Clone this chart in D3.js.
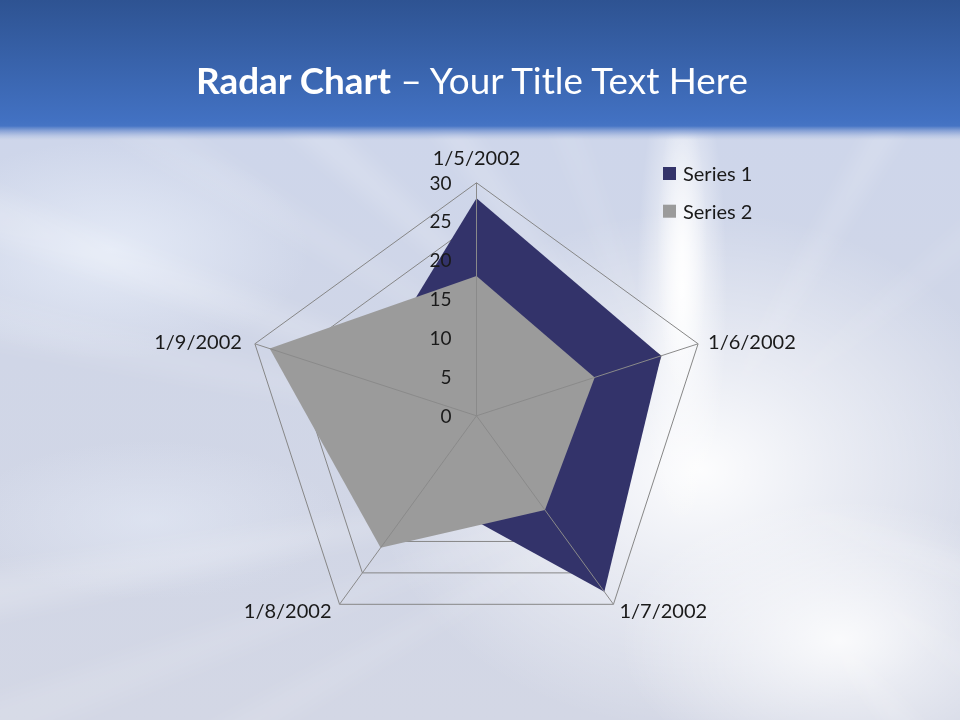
<!DOCTYPE html>
<html><head><meta charset="utf-8">
<script src="https://cdn.jsdelivr.net/npm/d3@7"></script>
<style>body{margin:0;overflow:hidden;background:#fff} svg{display:block}</style>
</head><body>
<script>
// ---- data ----
const categories = ["1/5/2002", "1/6/2002", "1/7/2002", "1/8/2002", "1/9/2002"];
const seriesNames = ["Series 1", "Series 2"];
const series1 = [28, 25, 28, 12, 15];
const series2 = [18, 16, 15, 21, 28];
const tickValues = [0, 5, 10, 15, 20, 25, 30];
const titleBold = "Radar Chart";
const titleRest = " \u2013 Your Title Text Here";

// ---- setup ----
const W = 960, H = 720;
const cx = 476.5, cy = 415.8, R = 233;
const colors = ["#33336a", "#9b9b9b"];
const font = "Lato, 'Open Sans', sans-serif";

const svg = d3.select("body").append("svg").attr("width", W).attr("height", H);
const defs = svg.append("defs");

// background gradients
const bg = defs.append("linearGradient").attr("id", "bg").attr("x1", 0).attr("y1", 0).attr("x2", 0).attr("y2", 1);
[[0, "#b4c3e3"], [0.05, "#cdd6ec"], [0.5, "#d0d6e7"], [1, "#d3d7e5"]]
  .forEach(([o, c]) => bg.append("stop").attr("offset", o).attr("stop-color", c));
const glow = defs.append("radialGradient").attr("id", "glow").attr("cx", 0.5).attr("cy", 0.5).attr("r", 0.5);
[[0, "#ffffff", 0.95], [0.4, "#ffffff", 0.55], [1, "#ffffff", 0]]
  .forEach(([o, c, op]) => glow.append("stop").attr("offset", o).attr("stop-color", c).attr("stop-opacity", op));
const glowL = defs.append("radialGradient").attr("id", "glowL").attr("cx", 0.5).attr("cy", 0.5).attr("r", 0.5);
[[0, "#e6ecf8", 0.9], [1, "#e6ecf8", 0]]
  .forEach(([o, c, op]) => glowL.append("stop").attr("offset", o).attr("stop-color", c).attr("stop-opacity", op));
const banner = defs.append("linearGradient").attr("id", "banner").attr("x1", 0).attr("y1", 0).attr("x2", 0).attr("y2", 1);
[[0, "#2e5392", 1], [0.86, "#4271c2", 1], [0.90, "#4674c4", 1], [0.95, "#7f9bd3", 0.6], [1, "#a9bbe0", 0]]
  .forEach(([o, c, op]) => banner.append("stop").attr("offset", o).attr("stop-color", c).attr("stop-opacity", op));
defs.append("filter").attr("id", "blur").attr("x", -0.2).attr("y", -0.2).attr("width", 1.4).attr("height", 1.4)
  .append("feGaussianBlur").attr("stdDeviation", 10);

svg.append("rect").attr("width", W).attr("height", H).attr("fill", "url(#bg)");
const bgG = svg.append("g");
bgG.append("ellipse").attr("cx", 700).attr("cy", 470).attr("rx", 330).attr("ry", 260).attr("fill", "url(#glow)");
bgG.append("ellipse").attr("cx", 682).attr("cy", 290).attr("rx", 45).attr("ry", 240).attr("fill", "url(#glow)");
bgG.append("ellipse").attr("cx", 682).attr("cy", 250).attr("rx", 25).attr("ry", 150).attr("fill", "url(#glow)").attr("opacity", 0.8);
bgG.append("ellipse").attr("cx", 840).attr("cy", 640).attr("rx", 220).attr("ry", 140).attr("fill", "url(#glow)").attr("opacity", 0.9);
bgG.append("ellipse").attr("cx", 110).attr("cy", 250).attr("rx", 200).attr("ry", 110).attr("fill", "url(#glowL)");
bgG.append("ellipse").attr("cx", 150).attr("cy", 520).attr("rx", 190).attr("ry", 80).attr("fill", "url(#glowL)").attr("opacity", 0.6);
// faint blurred rays from the burst centre
const rays = bgG.append("g").attr("filter", "url(#blur)");
const rayAngles = [192, 200, 212, 222, 160, 170, 150, 235, 250, 300, 320, 20, 35, 50];
rayAngles.forEach((a, i) => {
  const t = a * Math.PI / 180, w = 0.03;
  const L = 900, ox = 690, oy = 470;
  rays.append("path")
    .attr("d", `M${ox},${oy}L${ox + L * Math.cos(t - w)},${oy + L * Math.sin(t - w)}L${ox + L * Math.cos(t + w)},${oy + L * Math.sin(t + w)}Z`)
    .attr("fill", "#ffffff").attr("opacity", i % 2 ? 0.18 : 0.11);
});
svg.append("rect").attr("y", 0).attr("width", W).attr("height", 140).attr("fill", "url(#banner)");

// title
const title = svg.append("text").attr("x", 472).attr("y", 94).attr("text-anchor", "middle")
  .attr("fill", "#ffffff").attr("font-family", font).attr("font-size", 36);
title.append("tspan").attr("font-weight", "bold").text(titleBold);
title.append("tspan").text(titleRest);
const tw = title.node().getComputedTextLength();
title.attr("font-size", 36 * 552 / tw);

// scales
const r = d3.scaleLinear().domain([0, 30]).range([0, R]);
const ang = d3.scaleLinear().domain([0, categories.length]).range([0, 2 * Math.PI]);
const pt = (i, v) => [cx + r(v) * Math.sin(ang(i)), cy - r(v) * Math.cos(ang(i))];

const g = svg.append("g");
// gridlines (behind fills)
const gridLine = d3.lineRadial().angle((d, i) => ang(i)).curve(d3.curveLinearClosed);
tickValues.filter(v => v > 0).forEach(v => {
  g.append("path").attr("transform", `translate(${cx},${cy})`)
    .attr("d", gridLine.radius(() => r(v))(categories))
    .attr("fill", "none").attr("stroke", "#868686").attr("stroke-width", 1);
});

// filled series
const area = d3.lineRadial().angle((d, i) => ang(i)).radius(d => r(d)).curve(d3.curveLinearClosed);
[series1, series2].forEach((s, k) => {
  g.append("path").attr("transform", `translate(${cx},${cy})`)
    .attr("d", area(s)).attr("fill", colors[k]);
});

// spokes on top
categories.forEach((c, i) => {
  const [x, y] = pt(i, 30);
  g.append("line").attr("x1", cx).attr("y1", cy).attr("x2", x).attr("y2", y)
    .attr("stroke", "#8a8a8a").attr("stroke-width", 1);
});

// tick labels
g.selectAll(".tick").data(tickValues).join("text")
  .attr("x", cx - 25).attr("y", d => cy - r(d)).attr("dy", "0.36em")
  .attr("text-anchor", "end").attr("font-family", font).attr("font-size", 19)
  .attr("fill", "#1a1a1a").text(d => d);

// category labels
categories.forEach((c, i) => {
  const [x, y] = pt(i, 30);
  const s = Math.sin(ang(i)), co = Math.cos(ang(i));
  let tx = x, ty = y, anchor = "middle";
  if (co > 0.9) { ty = y - 18; }
  else if (co > 0) { anchor = s > 0 ? "start" : "end"; tx = x + (s > 0 ? 10 : -13); ty = y + 5; }
  else { anchor = s > 0 ? "start" : "end"; tx = x + (s > 0 ? 6 : -8); ty = y + 14; }
  g.append("text").attr("x", tx).attr("y", ty).attr("text-anchor", anchor)
    .attr("font-family", font).attr("font-size", 20).attr("fill", "#1a1a1a").text(c);
});

// legend
const lg = svg.append("g").attr("transform", "translate(663,167)");
seriesNames.forEach((n, k) => {
  lg.append("rect").attr("x", 0).attr("y", k * 37.7).attr("width", 13).attr("height", 13).attr("fill", colors[k]);
  lg.append("text").attr("x", 20).attr("y", k * 37.7 + 14).attr("font-family", font)
    .attr("font-size", 20).attr("fill", "#1a1a1a").text(n);
});
</script>
</body></html>
